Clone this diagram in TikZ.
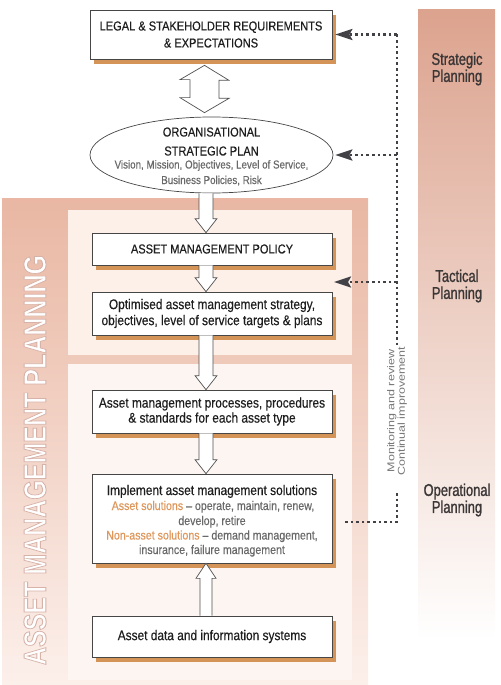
\documentclass[tikz,border=0pt]{standalone}
\usepackage{fontspec}
\setmainfont{Liberation Sans}[FakeStretch=0.85,FakeBold=0.3]
\newfontfamily\widefont{Liberation Sans}[FakeStretch=1.25]
\newfontfamily\ampfont{Liberation Sans Bold}[FakeStretch=1.1]
\newfontfamily\sidefont{Liberation Sans}[FakeStretch=0.76,FakeBold=1.2]
\usetikzlibrary{shapes.geometric,shadows,arrows.meta,calc}
\definecolor{txt}{RGB}{30,30,30}
\definecolor{subtxt}{RGB}{105,105,105}
\definecolor{orangetxt}{RGB}{222,150,90}
\definecolor{boxline}{RGB}{70,70,70}
\definecolor{shadowc}{RGB}{212,148,88}
\definecolor{arrline}{RGB}{80,80,80}
\definecolor{dotc}{RGB}{65,65,70}
\definecolor{sidetxt}{RGB}{60,55,55}
\definecolor{montxt}{RGB}{120,120,120}
\definecolor{coltop}{RGB}{220,163,142}
\definecolor{blktop}{RGB}{233,183,163}
\definecolor{blkbot}{RGB}{252,240,235}
\definecolor{innera}{RGB}{253,240,233}
\definecolor{innerb}{RGB}{253,245,241}
\newcommand\myfs[2]{\fontsize{#1bp}{#2bp}\selectfont}
\newcommand\outlinetext[1]{{\color{white}\special{pdf:literal direct 2 Tr 0.3 w 0.84 0.70 0.66 RG}#1\special{pdf:literal direct 0 Tr}}}
\newcommand\hdown[2]{%
  \path (#1.south -| ax) coordinate (hs) (#2.north -| ax) coordinate (ht);
  \draw[harrow] ($(hs)+(-7,0)$) -- ($(ht)+(-7,-14)$) -- ($(ht)+(-11,-14)$) -- (ht)
    -- ($(ht)+(11,-14)$) -- ($(ht)+(7,-14)$) -- ($(hs)+(7,0)$);}
\newcommand\hup[2]{%
  \path (#1.north -| ax) coordinate (hs) (#2.south -| ax) coordinate (ht);
  \draw[harrow] ($(hs)+(-6,0)$) -- ($(ht)+(-6,15)$) -- ($(ht)+(-10,15)$) -- (ht)
    -- ($(ht)+(10,15)$) -- ($(ht)+(6,15)$) -- ($(hs)+(6,0)$);}
\begin{document}
\begin{tikzpicture}[x=1bp,y=-1bp,
  box/.style={draw=boxline, line width=0.7bp, fill=white, minimum width=240bp,
    inner sep=0pt, align=center, text=txt,
    drop shadow={shadow xshift=4bp, shadow yshift=-5bp, fill=shadowc, opacity=1}},
  tx/.style={inner sep=0pt, anchor=base, text=txt},
  harrow/.style={draw=arrline, line width=0.7bp, fill=white, line join=miter},
  fbline/.style={draw=dotc, line width=2.6bp, dash pattern=on 2.6bp off 3bp},
  fbtip/.style={-{Stealth[length=17bp,width=11bp,inset=3bp]}},
  side/.style={font=\sidefont\myfs{17}{17}, text=sidetxt, align=center, inner sep=0pt}]
\useasboundingbox (0,0) rectangle (501,685);
% backgrounds
\shade[top color=coltop, bottom color=white] (418,10) rectangle (495,640);
\shade[top color=blktop, bottom color=blkbot] (2,198) rectangle (368,685);
\fill[innera] (68,210) rectangle (352,355);
\fill[innerb] (68,364) rectangle (352,680);
\node[rotate=90, inner sep=0pt] (amp) at (35,460)
  {\resizebox{410bp}{22bp}{\ampfont\outlinetext{ASSET MANAGEMENT PLANNING}}};
% right labels
\node[side] (strat) at (457,69) {Strategic\\Planning};
\node[side] (tact) at (457,286) {Tactical\\Planning};
\node[side] (oper) at (457,500) {Operational\\Planning};
% boxes
\node[box, minimum width=242bp, minimum height=49bp, font=\myfs{13}{17}] (b1) at (211,34.5)
  {LEGAL \& STAKEHOLDER REQUIREMENTS\\\& EXPECTATIONS};
\node[ellipse, draw=boxline, line width=0.7bp, fill=white, minimum width=243bp,
  minimum height=76bp, inner sep=0pt] (el) at (211.5,155) {};
\node[tx, font=\myfs{13}{15}] (el1) at (211.5,136.5) {ORGANISATIONAL};
\node[tx, font=\myfs{13}{15}] (el2) at (211.5,155.5) {STRATEGIC PLAN};
\node[tx, font=\myfs{11.5}{14}, text=subtxt] (el3) at (211.5,168.5) {Vision, Mission, Objectives, Level of Service,};
\node[tx, font=\myfs{11.5}{14}, text=subtxt] (el4) at (211.5,184) {Business Policies, Risk};
\node[box, minimum height=32bp, font=\myfs{13}{16}] (pol) at (212,249) {ASSET MANAGEMENT POLICY};
\node[box, minimum height=43bp, font=\myfs{14}{16}] (opt) at (212,313.5)
  {Optimised asset management strategy,\\objectives, level of service targets \& plans};
\node[box, minimum height=43bp, font=\myfs{14}{15}] (proc) at (212,411.5)
  {Asset management processes, procedures\\\& standards for each asset type};
\node[box, minimum height=89bp] (impl) at (212,518.5) {};
\node[tx, font=\myfs{14}{15}] (im1) at (212,495) {Implement asset management solutions};
\node[tx, font=\myfs{12.5}{15}, text=subtxt] (im2) at (213,510)
  {\textcolor{orangetxt}{Asset solutions} -- operate, maintain, renew,};
\node[tx, font=\myfs{12.5}{15}, text=subtxt] (im3) at (212,525) {develop, retire};
\node[tx, font=\myfs{12.5}{15}, text=subtxt] (im4) at (212,539.5)
  {\textcolor{orangetxt}{Non-asset solutions} -- demand management,};
\node[tx, font=\myfs{12.5}{15}, text=subtxt] (im5) at (212,554) {insurance, failure management};
\node[box, minimum height=41bp, font=\myfs{14}{16}] (data) at (212,636.5) {Asset data and information systems};
% hollow arrows
\coordinate (ax) at (206,0);
\coordinate (dax) at (204.5,0);
\path (b1.south -| dax) ++(0,6) coordinate (dt);
\path (el.north -| dax) ++(0,-4) coordinate (db);
\draw[harrow] (dt) -- ++(24.5,15) -- ++(-10,0) -- ++(0,18) -- ++(10,0) -- (db)
  -- ++(-24.5,-15) -- ++(10,0) -- ++(0,-18) -- ++(-10,0) -- cycle;
\hdown{el}{pol}
\hdown{pol}{opt}
\hdown{opt}{proc}
\hdown{proc}{impl}
\hup{data}{impl}
% feedback loop
\coordinate (fbx) at (397,0);
\coordinate (fbm) at (397,345);
\coordinate (tac) at (334,282);
\coordinate (fbl) at (397,493);
\coordinate (fbc) at (397,522);
\coordinate (fbe) at (345,522);
\draw[fbline] (b1.east -| fbx) -- (fbm);
\draw[fbline, fbtip] (b1.east -| fbx) -- ([xshift=3bp]b1.east);
\draw[fbline, fbtip] (el.east -| fbx) -- ([xshift=2bp]el.east);
\draw[fbline, fbtip] (tac -| fbx) -- (tac);
\draw[fbline] (fbl) -- (fbc) -- (fbe);
\node[rotate=90, align=center, inner sep=0pt, text=montxt, font=\widefont\myfs{10}{10.5}] (mon) at (397,411)
  {Monitoring and review\\Continual improvement};
\end{tikzpicture}
\end{document}
